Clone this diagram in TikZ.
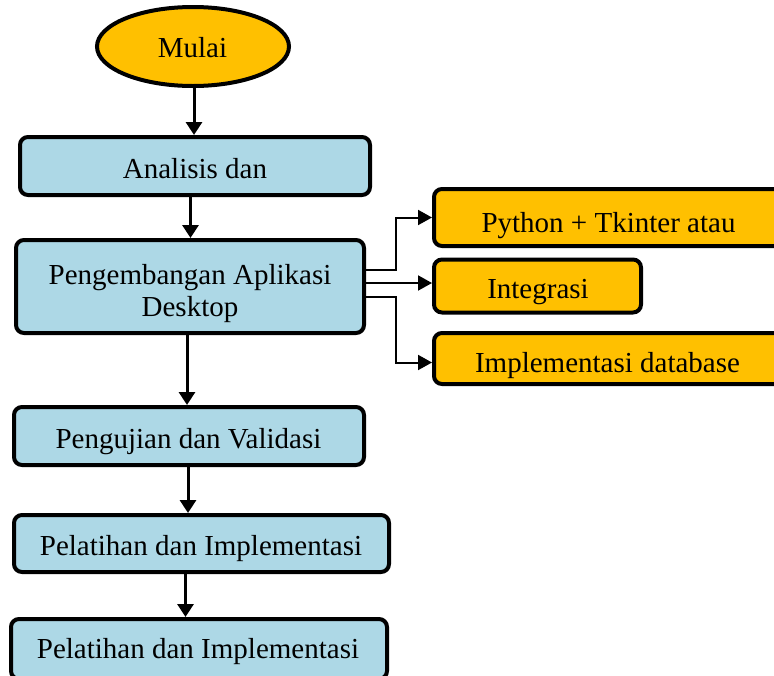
\documentclass[tikz,border=0pt]{standalone}
\usepackage{fontspec}
\setmainfont{Liberation Serif}
\usetikzlibrary{shapes.geometric,arrows.meta}
\definecolor{boxblue}{RGB}{173,216,230}
\definecolor{boxorange}{RGB}{255,192,0}
\tikzset{
  bluebox/.style={draw=black, line width=4pt, rounded corners=8pt, fill=boxblue, inner sep=0pt},
  orangebox/.style={draw=black, line width=4pt, rounded corners=8pt, fill=boxorange, inner sep=0pt},
  startshape/.style={ellipse, draw=black, line width=4pt, fill=boxorange, inner sep=0pt, minimum width=192pt, minimum height=79pt},
  lbl/.style={anchor=base, inner sep=0pt, font=\fontsize{29}{33}\selectfont},
  mainarr/.style={line width=3pt, -{Triangle[length=13pt,width=16pt]}},
  sidearr/.style={line width=2pt, -{Triangle[length=14pt,width=15pt]}},
}
\begin{document}
\begin{tikzpicture}[x=1pt,y=-1pt]
\useasboundingbox (0,0) rectangle (774,675);
\clip (0,0) rectangle (774,675);
% shapes
\node[startshape] (mulai) at (193,46.5) {};
\node[bluebox, minimum width=350pt, minimum height=58pt] (ana) at (195,166) {};
\node[bluebox, minimum width=348pt, minimum height=93pt] (peng) at (190,286.5) {};
\node[bluebox, minimum width=350pt, minimum height=58pt] (uji) at (189,436) {};
\node[bluebox, minimum width=375pt, minimum height=57pt] (pel1) at (201.5,543.5) {};
\node[bluebox, minimum width=376pt, minimum height=60pt] (pel2) at (199,649) {};
\node[orangebox, minimum width=356pt, minimum height=57pt] (py) at (612,217.5) {};
\node[orangebox, minimum width=207pt, minimum height=53pt] (integ) at (537.5,286) {};
\node[orangebox, minimum width=356pt, minimum height=51pt] (impl) at (612,358.5) {};
% texts
\node[lbl] (tmulai) at (192.5,57) {Mulai};
\node[lbl] (tana) at (195,178) {Analisis dan};
\node[lbl] (tpeng1) at (190,284) {Pengembangan Aplikasi};
\node[lbl] (tpeng2) at (190,316.5) {Desktop};
\node[lbl] (tuji) at (188.5,448) {Pengujian dan Validasi};
\node[lbl] (tpel1) at (201,555) {Pelatihan dan Implementasi};
\node[lbl] (tpel2) at (198,658) {Pelatihan dan Implementasi};
\node[lbl] (tpy) at (608.5,232) {Python + Tkinter atau};
\node[lbl] (tinteg) at (538,298) {Integrasi};
\node[lbl] (timpl) at (607.5,372) {Implementasi database};
% main arrows
\draw[mainarr] ([xshift=1pt]mulai.south) -- ([xshift=1pt]mulai.south |- ana.north);
\draw[mainarr] ([xshift=-4.5pt]ana.south) -- ([xshift=-4.5pt]ana.south |- peng.north);
\draw[mainarr] ([xshift=-3pt]peng.south) -- ([xshift=-3pt]peng.south |- uji.north);
\draw[mainarr] ([xshift=-1pt]uji.south) -- ([xshift=-1pt]uji.south |- pel1.north);
\draw[mainarr] ([xshift=-16pt]pel1.south) -- ([xshift=-16pt]pel1.south |- pel2.north);
% side connectors
\coordinate (s1) at ([yshift=16.5pt]peng.east);
\coordinate (s2) at ([yshift=3.5pt]peng.east);
\coordinate (s3) at ([yshift=-10.5pt]peng.east);
\draw[sidearr] (s1) -- ++(30,0) |- (py.west);
\draw[sidearr] (s2) -- (s2 -| integ.west);
\draw[sidearr] (s3) -- ++(30,0) |- ([yshift=-4pt]impl.west);
\end{tikzpicture}
\end{document}
